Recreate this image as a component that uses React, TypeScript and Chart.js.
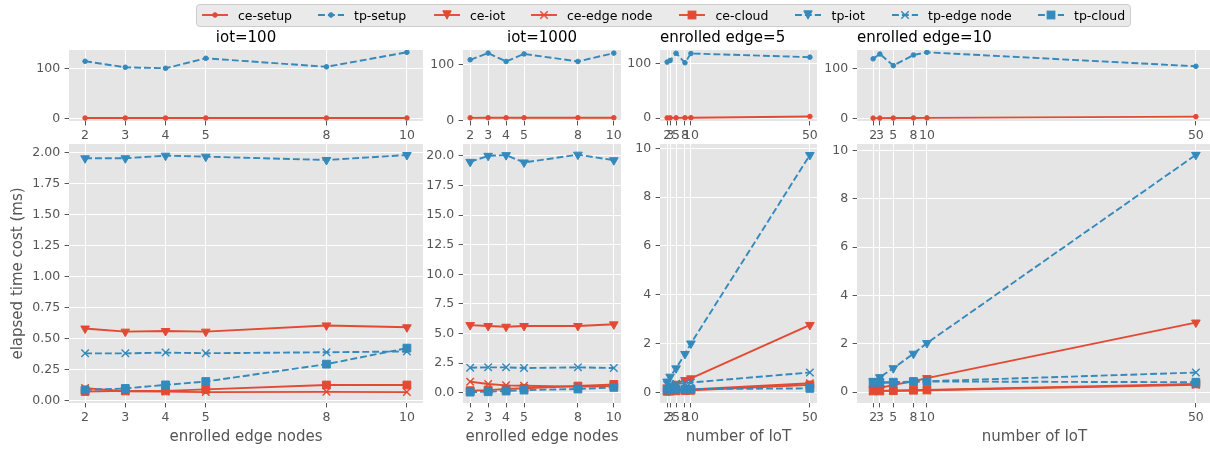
import React, { useEffect, useRef } from "react";
import { Chart, registerables } from "chart.js";

Chart.register(...registerables);

// ---------------- data ----------------
const seriesNames = ["ce-setup", "tp-setup", "ce-iot", "ce-edge node", "ce-cloud", "tp-iot", "tp-edge node", "tp-cloud"];

// x categories
const enrolledEdgeNodes = [2, 3, 4, 5, 8, 10];
const numberOfIot = [2, 3, 5, 8, 10, 50];

// panel titles / axis titles
const panelTitles = ["iot=100", "iot=1000", "enrolled edge=5", "enrolled edge=10"];
const yAxisTitle = "elapsed time cost (ms)";
const xTitleEdge = "enrolled edge nodes";
const xTitleIot = "number of IoT";

// y tick labels
const setupYTickLabels = ["0", "100"];
const iot100YTickLabels = ["0.00", "0.25", "0.50", "0.75", "1.00", "1.25", "1.50", "1.75", "2.00"];
const iot1000YTickLabels = ["0.0", "2.5", "5.0", "7.5", "10.0", "12.5", "15.0", "17.5", "20.0"];
const iotCountYTickLabels = ["0", "2", "4", "6", "8", "10"];

// top row: setup
const iot100CeSetup = [0.4, 0.5, 0.4, 0.5, 0.5, 0.5];
const iot100TpSetup = [114, 102, 100, 120, 103, 132];
const iot1000CeSetup = [4.6, 4.7, 4.7, 4.7, 4.8, 4.8];
const iot1000TpSetup = [109, 121, 106, 119.5, 106, 121];
const edge5CeSetup = [0.2, 0.3, 0.4, 0.5, 0.6, 2.9];
const edge5TpSetup = [102.3, 105.3, 118.5, 101, 118, 111.3];
const edge10CeSetup = [0.2, 0.3, 0.4, 0.6, 0.7, 3.2];
const edge10TpSetup = [119, 128.6, 105.3, 126.6, 132, 104];

// bottom row: iot=100
const iot100CeIot = [0.58, 0.555, 0.56, 0.555, 0.605, 0.59];
const iot100CeEdge = [0.1, 0.075, 0.072, 0.068, 0.07, 0.068];
const iot100CeCloud = [0.073, 0.078, 0.078, 0.09, 0.125, 0.125];
const iot100TpIot = [1.952, 1.952, 1.973, 1.965, 1.938, 1.978];
const iot100TpEdge = [0.38, 0.38, 0.386, 0.381, 0.389, 0.395];
const iot100TpCloud = [0.086, 0.097, 0.126, 0.153, 0.293, 0.422];

// bottom row: iot=1000
const iot1000CeIot = [5.71, 5.63, 5.57, 5.63, 5.63, 5.77];
const iot1000CeEdge = [0.93, 0.73, 0.62, 0.59, 0.51, 0.56];
const iot1000CeCloud = [0.17, 0.22, 0.31, 0.37, 0.56, 0.7];
const iot1000TpIot = [19.49, 20.0, 20.06, 19.44, 20.1, 19.63];
const iot1000TpEdge = [2.11, 2.14, 2.14, 2.08, 2.14, 2.08];
const iot1000TpCloud = [0.05, 0.08, 0.14, 0.22, 0.31, 0.45];

// bottom row: enrolled edge=5
const edge5CeIot = [0.2, 0.25, 0.35, 0.5, 0.57, 2.76];
const edge5CeEdge = [0.05, 0.06, 0.08, 0.1, 0.12, 0.37];
const edge5CeCloud = [0.04, 0.05, 0.06, 0.07, 0.08, 0.3];
const edge5TpIot = [0.44, 0.64, 0.98, 1.57, 2.0, 9.73];
const edge5TpEdge = [0.3, 0.32, 0.35, 0.37, 0.4, 0.81];
const edge5TpCloud = [0.1, 0.1, 0.12, 0.12, 0.13, 0.16];

// bottom row: enrolled edge=10
const edge10CeIot = [0.12, 0.17, 0.3, 0.45, 0.58, 2.88];
const edge10CeEdge = [0.04, 0.05, 0.06, 0.07, 0.08, 0.3];
const edge10CeCloud = [0.05, 0.05, 0.06, 0.08, 0.09, 0.34];
const edge10TpIot = [0.45, 0.62, 0.99, 1.59, 2.03, 9.82];
const edge10TpEdge = [0.36, 0.38, 0.4, 0.42, 0.45, 0.81];
const edge10TpCloud = [0.41, 0.41, 0.41, 0.44, 0.44, 0.41];

// ---------------- styles ----------------
const RED = "#E24A33";
const BLUE = "#348ABD";
const FONT = "'DejaVu Sans', 'Liberation Sans', sans-serif";
const TICK_COLOR = "#555555";

type Marker = "dot" | "tri" | "x" | "sq";
type Style = { color: string; dashed: boolean; marker: Marker };
const seriesStyles: Record<string, Style> = {
  "ce-setup": { color: RED, dashed: false, marker: "dot" },
  "tp-setup": { color: BLUE, dashed: true, marker: "dot" },
  "ce-iot": { color: RED, dashed: false, marker: "tri" },
  "ce-edge node": { color: RED, dashed: false, marker: "x" },
  "ce-cloud": { color: RED, dashed: false, marker: "sq" },
  "tp-iot": { color: BLUE, dashed: true, marker: "tri" },
  "tp-edge node": { color: BLUE, dashed: true, marker: "x" },
  "tp-cloud": { color: BLUE, dashed: true, marker: "sq" },
};
const markerOpts: Record<Marker, { style: string; r: number; rot: number; bw: number }> = {
  dot: { style: "circle", r: 2.3, rot: 0, bw: 1 },
  tri: { style: "triangle", r: 5, rot: 180, bw: 1 },
  x: { style: "crossRot", r: 5.3, rot: 0, bw: 1.4 },
  sq: { style: "rect", r: 5.5, rot: 0, bw: 1 },
};

// ---------------- layout ----------------
const COLS = [
  { left: 69, width: 354, yAxisW: 69 },
  { left: 463, width: 158, yAxisW: 45 },
  { left: 660, width: 157, yAxisW: 45 },
  { left: 857, width: 355, yAxisW: 45 },
];
const ROWS = {
  top: { top: 50, height: 71, xAxisH: 30, tickPad: 3 },
  bottom: { top: 144, height: 259, xAxisH: 48, tickPad: 2.5 },
};
const PAD_TOP = 10;
const PAD_RIGHT = 16;

type SeriesRef = { name: string; values: number[] };
type PanelSpec = {
  col: number;
  row: "top" | "bottom";
  xs: number[];
  xMin: number;
  xMax: number;
  yTicks: string[];
  yMin: number;
  yMax: number;
  series: SeriesRef[];
  xTitle?: string;
  yTitle?: string;
};

const panels: PanelSpec[] = [
  {
    col: 0, row: "top", xs: enrolledEdgeNodes, xMin: 1.6, xMax: 10.4, yTicks: setupYTickLabels, yMin: -5.5, yMax: 136.6,
    series: [{ name: "ce-setup", values: iot100CeSetup }, { name: "tp-setup", values: iot100TpSetup }],
  },
  {
    col: 1, row: "top", xs: enrolledEdgeNodes, xMin: 1.6, xMax: 10.4, yTicks: setupYTickLabels, yMin: -1.1, yMax: 126.6,
    series: [{ name: "ce-setup", values: iot1000CeSetup }, { name: "tp-setup", values: iot1000TpSetup }],
  },
  {
    col: 2, row: "top", xs: numberOfIot, xMin: -0.4, xMax: 52.4, yTicks: setupYTickLabels, yMin: -5.4, yMax: 124.4,
    series: [{ name: "ce-setup", values: edge5CeSetup }, { name: "tp-setup", values: edge5TpSetup }],
  },
  {
    col: 3, row: "top", xs: numberOfIot, xMin: -0.4, xMax: 52.4, yTicks: setupYTickLabels, yMin: -5.5, yMax: 136.6,
    series: [{ name: "ce-setup", values: edge10CeSetup }, { name: "tp-setup", values: edge10TpSetup }],
  },
  {
    col: 0, row: "bottom", xs: enrolledEdgeNodes, xMin: 1.6, xMax: 10.4, yTicks: iot100YTickLabels, yMin: -0.02, yMax: 2.067,
    xTitle: xTitleEdge, yTitle: yAxisTitle,
    series: [
      { name: "ce-iot", values: iot100CeIot },
      { name: "ce-edge node", values: iot100CeEdge },
      { name: "ce-cloud", values: iot100CeCloud },
      { name: "tp-iot", values: iot100TpIot },
      { name: "tp-edge node", values: iot100TpEdge },
      { name: "tp-cloud", values: iot100TpCloud },
    ],
  },
  {
    col: 1, row: "bottom", xs: enrolledEdgeNodes, xMin: 1.6, xMax: 10.4, yTicks: iot1000YTickLabels, yMin: -0.87, yMax: 21.0,
    xTitle: xTitleEdge,
    series: [
      { name: "ce-iot", values: iot1000CeIot },
      { name: "ce-edge node", values: iot1000CeEdge },
      { name: "ce-cloud", values: iot1000CeCloud },
      { name: "tp-iot", values: iot1000TpIot },
      { name: "tp-edge node", values: iot1000TpEdge },
      { name: "tp-cloud", values: iot1000TpCloud },
    ],
  },
  {
    col: 2, row: "bottom", xs: numberOfIot, xMin: -0.4, xMax: 52.4, yTicks: iotCountYTickLabels, yMin: -0.44, yMax: 10.18,
    xTitle: xTitleIot,
    series: [
      { name: "ce-iot", values: edge5CeIot },
      { name: "ce-edge node", values: edge5CeEdge },
      { name: "ce-cloud", values: edge5CeCloud },
      { name: "tp-iot", values: edge5TpIot },
      { name: "tp-edge node", values: edge5TpEdge },
      { name: "tp-cloud", values: edge5TpCloud },
    ],
  },
  {
    col: 3, row: "bottom", xs: numberOfIot, xMin: -0.4, xMax: 52.4, yTicks: iotCountYTickLabels, yMin: -0.45, yMax: 10.27,
    xTitle: xTitleIot,
    series: [
      { name: "ce-iot", values: edge10CeIot },
      { name: "ce-edge node", values: edge10CeEdge },
      { name: "ce-cloud", values: edge10CeCloud },
      { name: "tp-iot", values: edge10TpIot },
      { name: "tp-edge node", values: edge10TpEdge },
      { name: "tp-cloud", values: edge10TpCloud },
    ],
  },
];

const panelBgPlugin = {
  id: "panelBg",
  beforeDraw(chart: any) {
    const { ctx, chartArea: a } = chart;
    ctx.save();
    ctx.fillStyle = "#E5E5E5";
    ctx.fillRect(a.left, a.top, a.right - a.left, a.bottom - a.top);
    ctx.restore();
  },
};

function buildConfig(p: PanelSpec): any {
  const col = COLS[p.col];
  const row = ROWS[p.row];
  const tickFont = { family: FONT, size: 12.5 };
  const titleFont = { family: FONT, size: 15 };
  const grid = {
    color: "#FFFFFF",
    lineWidth: 1,
    drawTicks: true,
    tickLength: 4.4,
    tickColor: TICK_COLOR,
    tickWidth: 1,
  };
  const datasets = p.series.map((s) => {
    const st = seriesStyles[s.name];
    const m = markerOpts[st.marker];
    const idx = seriesNames.indexOf(s.name);
    return {
      label: s.name,
      data: p.xs.map((x, i) => ({ x, y: s.values[i] })),
      borderColor: st.color,
      backgroundColor: st.color,
      borderWidth: 1.9,
      borderDash: st.dashed ? [6.9, 3] : [],
      borderCapStyle: st.dashed ? "butt" : "square",
      borderJoinStyle: "round",
      pointStyle: m.style,
      pointRadius: m.r,
      pointHoverRadius: m.r,
      pointRotation: m.rot,
      pointBorderWidth: m.bw,
      pointBackgroundColor: st.color,
      pointBorderColor: st.color,
      tension: 0,
      fill: false,
      order: -idx,
    };
  });
  return {
    type: "line",
    data: { datasets },
    plugins: [panelBgPlugin],
    options: {
      animation: false,
      responsive: false,
      maintainAspectRatio: false,
      devicePixelRatio: 1,
      events: [],
      layout: { padding: { top: PAD_TOP, right: PAD_RIGHT, left: 0, bottom: 0 } },
      plugins: { legend: { display: false }, tooltip: { enabled: false }, title: { display: false } },
      scales: {
        x: {
          type: "linear",
          position: "bottom",
          min: p.xMin,
          max: p.xMax,
          afterBuildTicks: (s: any) => {
            s.ticks = p.xs.map((v) => ({ value: v }));
          },
          afterFit: (s: any) => {
            s.height = row.xAxisH;
            s.paddingLeft = 0;
            s.paddingRight = 0;
          },
          ticks: {
            autoSkip: false,
            maxRotation: 0,
            minRotation: 0,
            padding: row.tickPad,
            color: TICK_COLOR,
            font: tickFont,
            callback: (_v: any, i: number) => String(p.xs[i]),
          },
          grid,
          border: { display: false },
          title: p.xTitle
            ? { display: true, text: p.xTitle, color: TICK_COLOR, font: titleFont, padding: { top: 0, bottom: 5.3 } }
            : { display: false },
        },
        y: {
          type: "linear",
          position: "left",
          min: p.yMin,
          max: p.yMax,
          afterBuildTicks: (s: any) => {
            s.ticks = p.yTicks.map((t) => ({ value: Number(t) }));
          },
          afterFit: (s: any) => {
            s.width = col.yAxisW;
            s.paddingTop = 0;
            s.paddingBottom = 0;
          },
          ticks: {
            padding: 4.4,
            color: TICK_COLOR,
            font: tickFont,
            callback: (_v: any, i: number) => p.yTicks[i],
          },
          grid,
          border: { display: false },
          title: p.yTitle
            ? { display: true, text: p.yTitle, color: TICK_COLOR, font: titleFont, padding: { top: 9.3, bottom: 0 } }
            : { display: false },
        },
      },
    },
  };
}

function PanelChart({ p }: { p: PanelSpec }) {
  const ref = useRef<HTMLCanvasElement | null>(null);
  const col = COLS[p.col];
  const row = ROWS[p.row];
  const cw = col.yAxisW + col.width + PAD_RIGHT;
  const ch = PAD_TOP + row.height + row.xAxisH;
  useEffect(() => {
    if (!ref.current) return;
    const chart = new Chart(ref.current, buildConfig(p));
    return () => chart.destroy();
  }, []);
  return (
    <canvas
      ref={ref}
      width={cw}
      height={ch}
      style={{ position: "absolute", left: col.left - col.yAxisW, top: row.top - PAD_TOP, width: cw, height: ch }}
    />
  );
}

// ---------------- legend ----------------
const legendTextX = [238, 354, 470, 567, 715.5, 831.5, 928, 1074];

function Glyph({ st, left }: { st: Style; left: number }) {
  const w = 26;
  const h = 14;
  const cx = 13;
  const cy = 7;
  let marker: any = null;
  if (st.marker === "dot") {
    marker = <circle cx={cx} cy={cy} r={2.3} fill={st.color} stroke={st.color} strokeWidth={1} />;
  } else if (st.marker === "tri") {
    const a = 4.2;
    marker = (
      <polygon
        points={`${cx - a},${cy - a} ${cx + a},${cy - a} ${cx},${cy + a}`}
        fill={st.color}
        stroke={st.color}
        strokeWidth={1}
        strokeLinejoin="miter"
      />
    );
  } else if (st.marker === "x") {
    const a = 3.75;
    marker = (
      <g stroke={st.color} strokeWidth={1.4}>
        <line x1={cx - a} y1={cy - a} x2={cx + a} y2={cy + a} />
        <line x1={cx - a} y1={cy + a} x2={cx + a} y2={cy - a} />
      </g>
    );
  } else {
    const a = 3.9;
    marker = <rect x={cx - a} y={cy - a} width={2 * a} height={2 * a} fill={st.color} stroke={st.color} strokeWidth={1} />;
  }
  return (
    <svg width={w} height={h} style={{ position: "absolute", left, top: 15.3 - cy }}>
      <line
        x1={0}
        y1={cy}
        x2={w}
        y2={cy}
        stroke={st.color}
        strokeWidth={1.9}
        strokeDasharray={st.dashed ? "6.9 3" : undefined}
      />
      {marker}
    </svg>
  );
}

function Legend() {
  return (
    <>
      <div
        style={{
          position: "absolute",
          left: 196,
          top: 4,
          width: 935,
          height: 22.7,
          boxSizing: "border-box",
          border: "1px solid #CCCCCC",
          borderRadius: 4,
          background: "rgba(229,229,229,0.8)",
        }}
      />
      {seriesNames.map((name, i) => (
        <React.Fragment key={name}>
          <Glyph st={seriesStyles[name]} left={legendTextX[i] - 36.5} />
          <div
            style={{
              position: "absolute",
              left: legendTextX[i],
              top: 15.3 - 7.5,
              height: 15,
              lineHeight: "15px",
              fontSize: 12.5,
              fontFamily: FONT,
              color: "#000000",
              whiteSpace: "nowrap",
            }}
          >
            {name}
          </div>
        </React.Fragment>
      ))}
    </>
  );
}

function PanelTitles() {
  const titleStyle: any = {
    position: "absolute",
    top: 28,
    height: 18,
    lineHeight: "18px",
    fontSize: 15,
    fontFamily: FONT,
    color: "#000000",
    whiteSpace: "nowrap",
  };
  return (
    <>
      <div style={{ ...titleStyle, left: COLS[0].left, width: COLS[0].width, textAlign: "center" }}>{panelTitles[0]}</div>
      <div style={{ ...titleStyle, left: COLS[1].left, width: COLS[1].width, textAlign: "center" }}>{panelTitles[1]}</div>
      <div style={{ ...titleStyle, left: COLS[2].left }}>{panelTitles[2]}</div>
      <div style={{ ...titleStyle, left: COLS[3].left }}>{panelTitles[3]}</div>
    </>
  );
}

export default function App() {
  return (
    <div
      style={{
        position: "absolute",
        left: 0,
        top: 0,
        width: 1210,
        height: 451,
        overflow: "hidden",
        background: "#FFFFFF",
      }}
    >
      {panels.map((p, i) => (
        <PanelChart key={i} p={p} />
      ))}
      <PanelTitles />
      <Legend />
    </div>
  );
}
